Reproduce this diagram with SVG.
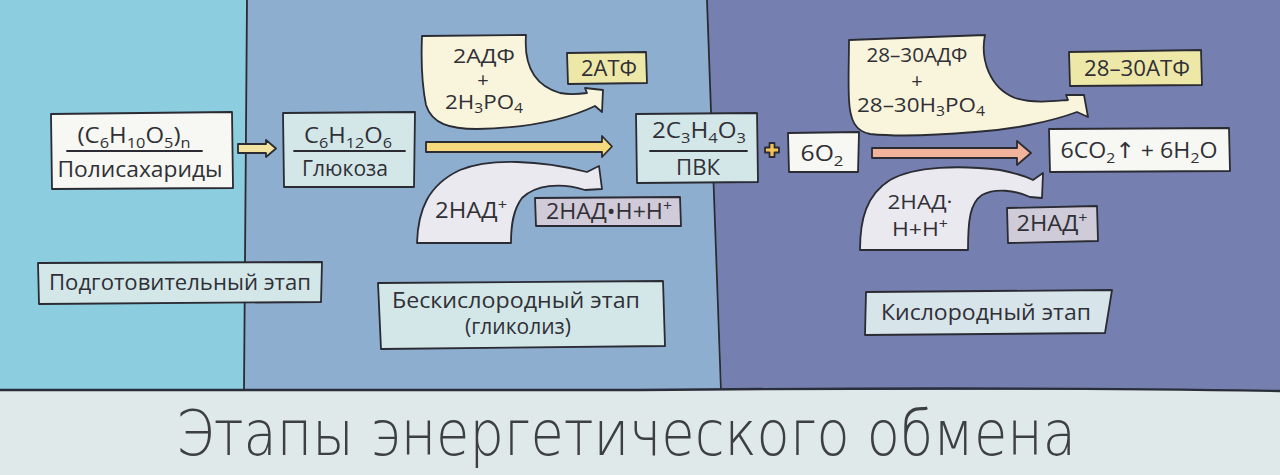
<svg xmlns="http://www.w3.org/2000/svg" width="1280" height="475" viewBox="0 0 1280 475">
<style>
.ln{stroke:#2a2b33;stroke-width:1.8;stroke-linejoin:round;stroke-linecap:round}
.t{font-family:"Open Sans","Noto Sans","DejaVu Sans",sans-serif;fill:#303036;font-size:22px;text-anchor:middle}
.s{font-size:20px}
.lbl{font-size:21px}
.title{font-family:"DejaVu Sans","Open Sans",sans-serif;font-weight:200;font-size:62px;fill:#3c3f44;text-anchor:middle}
.box{fill:#d3e7e9}
.wht{fill:#f7f8f3}
.yel{fill:#eee8a8}
.crm{fill:#f9f5dc}
.lav{fill:#ebe9f0}
.vio{fill:#d1cad8}
</style>

<!-- background panels -->
<rect x="0" y="0" width="1280" height="390" fill="#8dcde0"/>
<path d="M247,0 L707,0 L722,390 L244,390 Z" fill="#8eaed0"/>
<path d="M707,0 L1280,0 L1280,390 L722,390 Z" fill="#7680b0"/>
<path class="ln" fill="none" d="M247,0 C246,130 245,260 244,390"/>
<path class="ln" fill="none" d="M707,0 C712,130 717,260 721,390"/>
<rect x="0" y="390" width="1280" height="85" fill="#dfe9ea"/>
<path fill="none" stroke="#2a2e3a" stroke-width="2.4" d="M0,390 C200,388 420,392 640,390 S1100,388 1280,391"/>

<!-- connectors -->
<g id="connectors" class="ln">
  <path d="M238,144 L266,144 L266,140 L276,148.5 L266,157 L266,153 L238,153 Z" fill="#f3e3a0"/>
  <path d="M426,142 L602,142 L602,136 L612,146.5 L602,157 L602,152 L426,152 Z" fill="#f5d97c"/>
  <path d="M872,148 L1017,148 L1017,141 L1031,153 L1017,165 L1017,158 L872,158 Z" fill="#f2b39c"/>
</g>

<g id="plus">
  <path class="ln" stroke-width="1.3" fill="#f2c35a" d="M769.5,143 L774.5,143 L774.5,147.5 L779,147.5 L779,152.5 L774.5,152.5 L774.5,157 L769.5,157 L769.5,152.5 L765,152.5 L765,147.5 L769.5,147.5 Z"/>
</g>

<!-- nodes -->
<g id="polysaccharides">
  <path class="ln wht" d="M51,114 L232,112 L233,188 L52,189 Z"/>
  <text class="t" x="134" y="143" textLength="113" lengthAdjust="spacingAndGlyphs">(C<tspan font-size="15" dy="5">6</tspan><tspan dy="-5">H</tspan><tspan font-size="15" dy="5">10</tspan><tspan dy="-5">O</tspan><tspan font-size="15" dy="5">5</tspan><tspan dy="-5">)</tspan><tspan font-size="15" dy="5">n</tspan></text>
  <path class="ln" fill="none" d="M67,151 L202,151"/>
  <text class="t" x="140" y="177" textLength="165" lengthAdjust="spacingAndGlyphs">Полисахариды</text>
</g>

<g id="glucose">
  <path class="ln box" d="M283,113 L415,112 L414,187 L284,187 Z"/>
  <text class="t" x="348" y="143" textLength="88" lengthAdjust="spacingAndGlyphs">C<tspan font-size="15" dy="5">6</tspan><tspan dy="-5">H</tspan><tspan font-size="15" dy="5">12</tspan><tspan dy="-5">O</tspan><tspan font-size="15" dy="5">6</tspan></text>
  <path class="ln" fill="none" d="M294,151 L405,151"/>
  <text class="t" x="345" y="176" textLength="86" lengthAdjust="spacingAndGlyphs">Глюкоза</text>
</g>

<g id="adp-glycolysis">
  <path class="ln crm" d="M422,36 L526,35 C524,62 532,85 560,93 C570,95 580,94 587,93 L585,88 L603,90 L602,112 L595,106 C570,118 530,128 477,129 C450,129 432,124 426,105 C422,85 421,60 422,36 Z"/>
  <text class="t s"><tspan x="484" y="63" textLength="62" lengthAdjust="spacingAndGlyphs">2АДФ</tspan><tspan x="483" y="87" font-size="20">+</tspan><tspan x="484" y="109" textLength="78" lengthAdjust="spacingAndGlyphs">2H<tspan font-size="14" dy="4">3</tspan><tspan dy="-4">PO</tspan><tspan font-size="14" dy="4">4</tspan></tspan></text>
</g>

<g id="atp-glycolysis">
  <path class="ln yel" d="M567,53 L646,52 L647,83 L568,84 Z"/>
  <text class="t" x="609" y="76" textLength="56" lengthAdjust="spacingAndGlyphs">2АТФ</text>
</g>

<g id="nad-glycolysis">
  <path class="ln lav" d="M417,243 C418,210 428,185 460,170 C490,158 540,160 587,172 L599,166 L602,189 L585,190 C560,182 535,185 522,198 C513,210 511,225 511,243 Z"/>
  <text class="t" x="471" y="218" textLength="72" lengthAdjust="spacingAndGlyphs">2НАД<tspan font-size="15" dy="-8">+</tspan></text>
</g>

<g id="nadh-glycolysis">
  <path class="ln vio" d="M535,198 L680,197 L681,226 L536,226 Z"/>
  <text class="t" x="609" y="219" textLength="126" lengthAdjust="spacingAndGlyphs">2НАД•Н+Н<tspan font-size="15" dy="-8">+</tspan></text>
</g>

<g id="pvk">
  <path class="ln box" d="M636,114 L757,113 L758,182 L637,183 Z"/>
  <text class="t" x="699" y="138" textLength="94" lengthAdjust="spacingAndGlyphs">2C<tspan font-size="15" dy="5">3</tspan><tspan dy="-5">H</tspan><tspan font-size="15" dy="5">4</tspan><tspan dy="-5">O</tspan><tspan font-size="15" dy="5">3</tspan></text>
  <path class="ln" fill="none" d="M650,151 L747,151"/>
  <text class="t" x="698" y="175" textLength="44" lengthAdjust="spacingAndGlyphs">ПВК</text>
</g>

<g id="oxygen">
  <path class="ln wht" d="M788,133 L859,132 L858,172 L789,172 Z"/>
  <text class="t" x="822" y="161" textLength="43" lengthAdjust="spacingAndGlyphs">6O<tspan font-size="15" dy="5">2</tspan></text>
</g>

<g id="products">
  <path class="ln wht" d="M1049,129 L1229,128 L1230,171 L1050,172 Z"/>
  <text class="t" x="1139" y="158" textLength="157" lengthAdjust="spacingAndGlyphs">6CO<tspan font-size="15" dy="5">2</tspan><tspan dy="-5">↑ + 6H</tspan><tspan font-size="15" dy="5">2</tspan><tspan dy="-5">O</tspan></text>
</g>

<g id="adp-oxygen">
  <path class="ln crm" d="M849,40 L985,35 C980,60 990,88 1015,98 C1035,104 1055,101 1068,100 L1066,95 L1084,95 L1088,117 L1077,112 C1050,122 1010,130 975,132 C940,135 900,137 870,134 C855,131 850,120 849,100 C848,80 849,60 849,40 Z"/>
  <text class="t s"><tspan x="917" y="62" textLength="101" lengthAdjust="spacingAndGlyphs">28–30АДФ</tspan><tspan x="917" y="88" font-size="20">+</tspan><tspan x="921" y="112" textLength="128" lengthAdjust="spacingAndGlyphs">28–30H<tspan font-size="14" dy="4">3</tspan><tspan dy="-4">PO</tspan><tspan font-size="14" dy="4">4</tspan></tspan></text>
</g>

<g id="atp-oxygen">
  <path class="ln yel" d="M1069,52 L1201,50 L1202,85 L1070,86 Z"/>
  <text class="t" x="1137" y="76" textLength="106" lengthAdjust="spacingAndGlyphs">28–30АТФ</text>
</g>

<g id="nadh-oxygen">
  <path class="ln lav" d="M860,250 C860,220 866,195 890,180 C915,166 960,165 1000,170 C1015,173 1025,176 1033,180 L1043,173 L1042,198 L1030,197 C1015,190 995,188 982,195 C970,203 968,220 968,250 Z"/>
  <text class="t s"><tspan x="920" y="209" textLength="65" lengthAdjust="spacingAndGlyphs">2НАД·</tspan><tspan x="920" y="236" textLength="56" lengthAdjust="spacingAndGlyphs">Н+Н<tspan font-size="14" dy="-7">+</tspan></tspan></text>
</g>

<g id="nad-oxygen">
  <path class="ln" fill="#cfcbd8" d="M1007,208 L1097,206 L1098,241 L1008,243 Z"/>
  <text class="t" x="1052" y="231" textLength="71" lengthAdjust="spacingAndGlyphs">2НАД<tspan font-size="15" dy="-8">+</tspan></text>
</g>

<g id="stage-preparatory">
  <path class="ln box" d="M38,263 L322,262 L321,302 L39,304 Z"/>
  <text class="t lbl" x="180" y="290" textLength="262" lengthAdjust="spacingAndGlyphs">Подготовительный этап</text>
</g>

<g id="stage-anaerobic">
  <path class="ln box" d="M378,283 L663,281 L665,346 L381,349 Z"/>
  <text class="t lbl"><tspan x="516" y="308" textLength="248" lengthAdjust="spacingAndGlyphs">Бескислородный этап</tspan><tspan x="518" y="334">(гликолиз)</tspan></text>
</g>

<g id="stage-oxygen">
  <path class="ln" fill="#d7e4ea" d="M866,292 L1112,290 L1105,333 L865,335 Z"/>
  <text class="t lbl" x="986" y="320" textLength="210" lengthAdjust="spacingAndGlyphs">Кислородный этап</text>
</g>

<text class="title" x="626" y="455" textLength="900" lengthAdjust="spacingAndGlyphs">Этапы энергетического обмена</text>
</svg>
